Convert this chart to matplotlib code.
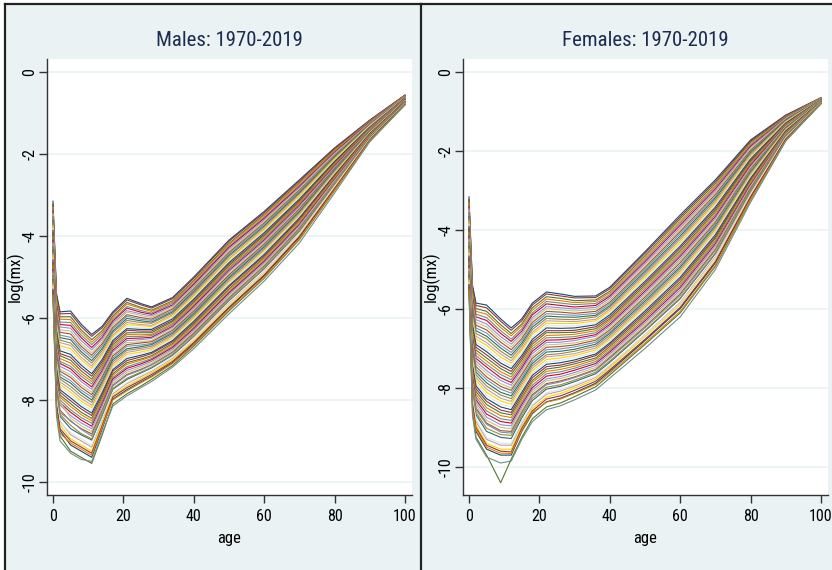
import matplotlib
matplotlib.use("Agg")
import matplotlib.pyplot as plt
from matplotlib import font_manager
from matplotlib.lines import Line2D
from matplotlib.patches import Rectangle

# ---------------------------------------------------------------------------
# log central death rates, log(mx), one value per calendar year 1970..2019
# ---------------------------------------------------------------------------
years = list(range(1970, 2020))
x_ticks = [0, 20, 40, 60, 80, 100]
y_ticks = [0, -2, -4, -6, -8, -10]

male_ages = [0, 1, 2, 5, 8, 11, 14, 17, 21, 25, 28, 34, 40, 50, 60, 70, 80, 90, 100]
female_ages = [0, 1, 2, 5, 9, 12, 15, 18, 22, 26, 30, 36, 40, 50, 60, 70, 80, 90, 100]

# ----- males -----
m_a0 = [-3.15, -3.22, -3.24, -3.30, -3.33, -3.39, -3.44, -3.47, -3.53, -3.58,
        -3.62, -3.66, -3.73, -3.77, -3.82, -3.86, -3.92, -3.96, -4.01, -4.06,
        -4.10, -4.16, -4.20, -4.25, -4.30, -4.33, -4.40, -4.44, -4.48, -4.55,
        -4.58, -4.64, -4.68, -4.72, -4.79, -4.82, -4.87, -4.92, -4.95, -5.02,
        -5.06, -5.10, -5.16, -5.20, -5.24, -5.30, -5.33, -5.40, -5.44, -5.50]
m_a1 = [-5.40, -5.44, -5.52, -5.57, -5.63, -5.68, -5.77, -5.81, -5.88, -5.94,
        -6.01, -6.06, -6.13, -6.18, -6.26, -6.30, -6.38, -6.42, -6.50, -6.55,
        -6.62, -6.67, -6.75, -6.80, -6.86, -6.92, -6.99, -7.03, -7.11, -7.16,
        -7.22, -7.29, -7.33, -7.41, -7.45, -7.52, -7.58, -7.63, -7.70, -7.74,
        -7.82, -7.86, -7.93, -7.99, -8.03, -8.12, -8.16, -8.22, -8.30, -8.40]
m_a2 = [-5.85, -5.90, -5.97, -6.03, -6.10, -6.16, -6.22, -6.29, -6.35, -6.42,
        -6.48, -6.54, -6.60, -6.68, -6.73, -6.80, -6.87, -6.92, -6.99, -7.06,
        -7.11, -7.18, -7.25, -7.30, -7.37, -7.44, -7.49, -7.56, -7.62, -7.68,
        -7.75, -7.81, -7.88, -7.93, -8.00, -8.07, -8.12, -8.05, -8.25, -8.31,
        -8.40, -8.35, -8.52, -8.60, -8.55, -8.75, -8.70, -8.88, -8.82, -9.00]
m_a5 = [-5.83, -5.89, -5.97, -6.04, -6.11, -6.18, -6.25, -6.32, -6.39, -6.47,
        -6.53, -6.61, -6.67, -6.75, -6.82, -6.89, -6.96, -7.03, -7.10, -7.18,
        -7.24, -7.31, -7.39, -7.45, -7.53, -7.59, -7.67, -7.74, -7.81, -7.88,
        -7.95, -8.02, -8.09, -8.16, -8.24, -8.30, -8.38, -8.44, -8.52, -8.50,
        -8.70, -8.62, -8.85, -8.95, -8.80, -9.10, -9.00, -9.25, -9.05, -9.30]
m_a8 = [-6.15, -6.21, -6.29, -6.35, -6.42, -6.48, -6.55, -6.62, -6.69, -6.75,
        -6.82, -6.88, -6.96, -7.02, -7.09, -7.15, -7.22, -7.29, -7.36, -7.42,
        -7.49, -7.55, -7.63, -7.69, -7.76, -7.82, -7.89, -7.96, -8.03, -8.09,
        -8.16, -8.22, -8.30, -8.36, -8.43, -8.49, -8.56, -8.63, -8.70, -8.72,
        -8.85, -8.82, -9.00, -9.10, -8.95, -9.25, -9.15, -9.40, -9.20, -9.45]
m_a11 = [-6.40, -6.45, -6.53, -6.59, -6.65, -6.72, -6.78, -6.85, -6.91, -6.97,
         -7.04, -7.10, -7.17, -7.23, -7.29, -7.36, -7.42, -7.49, -7.55, -7.61,
         -7.68, -7.74, -7.81, -7.87, -7.93, -8.00, -8.06, -8.13, -8.19, -8.25,
         -8.32, -8.38, -8.45, -8.51, -8.57, -8.64, -8.70, -8.77, -8.83, -8.88,
         -8.98, -8.95, -9.15, -9.25, -9.10, -9.40, -9.30, -9.55, -9.35, -9.50]
m_a14 = [-6.20, -6.24, -6.31, -6.36, -6.41, -6.47, -6.52, -6.58, -6.63, -6.68,
         -6.74, -6.79, -6.85, -6.90, -6.95, -7.01, -7.06, -7.12, -7.17, -7.22,
         -7.28, -7.33, -7.39, -7.44, -7.49, -7.55, -7.60, -7.66, -7.71, -7.76,
         -7.82, -7.87, -7.93, -7.98, -8.03, -8.09, -8.14, -8.20, -8.25, -8.28,
         -8.38, -8.35, -8.50, -8.58, -8.46, -8.70, -8.62, -8.85, -8.66, -8.80]
m_a17 = [-5.85, -5.89, -5.95, -5.99, -6.04, -6.08, -6.13, -6.18, -6.23, -6.27,
         -6.32, -6.36, -6.42, -6.46, -6.51, -6.55, -6.60, -6.65, -6.70, -6.74,
         -6.79, -6.83, -6.89, -6.93, -6.98, -7.02, -7.07, -7.12, -7.17, -7.21,
         -7.26, -7.30, -7.36, -7.40, -7.45, -7.49, -7.54, -7.59, -7.64, -7.66,
         -7.74, -7.72, -7.85, -7.90, -7.82, -7.98, -7.93, -8.10, -8.00, -8.15]
m_a21 = [-5.52, -5.56, -5.62, -5.66, -5.72, -5.76, -5.82, -5.86, -5.92, -5.96,
         -6.01, -6.06, -6.11, -6.16, -6.21, -6.26, -6.30, -6.36, -6.40, -6.45,
         -6.50, -6.55, -6.60, -6.65, -6.69, -6.75, -6.79, -6.84, -6.89, -6.94,
         -6.99, -7.04, -7.09, -7.13, -7.19, -7.23, -7.28, -7.33, -7.38, -7.40,
         -7.50, -7.47, -7.60, -7.66, -7.58, -7.75, -7.70, -7.85, -7.78, -7.90]
m_a25 = [-5.65, -5.68, -5.74, -5.77, -5.82, -5.86, -5.90, -5.94, -5.99, -6.03,
         -6.07, -6.11, -6.16, -6.19, -6.24, -6.28, -6.32, -6.36, -6.41, -6.45,
         -6.49, -6.53, -6.58, -6.61, -6.66, -6.70, -6.74, -6.78, -6.83, -6.87,
         -6.91, -6.95, -7.00, -7.03, -7.08, -7.12, -7.16, -7.20, -7.25, -7.27,
         -7.34, -7.32, -7.43, -7.48, -7.40, -7.56, -7.52, -7.66, -7.58, -7.70]
m_a28 = [-5.73, -5.76, -5.81, -5.84, -5.88, -5.91, -5.95, -5.99, -6.03, -6.06,
         -6.10, -6.13, -6.18, -6.21, -6.25, -6.28, -6.32, -6.36, -6.40, -6.43,
         -6.47, -6.50, -6.55, -6.58, -6.62, -6.65, -6.69, -6.73, -6.77, -6.80,
         -6.84, -6.87, -6.92, -6.95, -6.99, -7.02, -7.06, -7.10, -7.14, -7.15,
         -7.22, -7.20, -7.30, -7.34, -7.28, -7.42, -7.38, -7.50, -7.44, -7.55]
m_a34 = [-5.50, -5.53, -5.58, -5.61, -5.64, -5.68, -5.71, -5.75, -5.78, -5.82,
         -5.85, -5.88, -5.92, -5.95, -5.99, -6.02, -6.06, -6.09, -6.13, -6.16,
         -6.20, -6.23, -6.27, -6.30, -6.34, -6.37, -6.41, -6.44, -6.48, -6.51,
         -6.55, -6.58, -6.62, -6.65, -6.69, -6.72, -6.76, -6.79, -6.83, -6.85,
         -6.91, -6.89, -6.98, -7.02, -6.96, -7.09, -7.06, -7.16, -7.11, -7.20]
m_a40 = [-5.00, -5.03, -5.08, -5.11, -5.15, -5.18, -5.22, -5.26, -5.29, -5.33,
         -5.36, -5.40, -5.44, -5.47, -5.51, -5.54, -5.58, -5.62, -5.65, -5.69,
         -5.72, -5.76, -5.80, -5.83, -5.87, -5.90, -5.94, -5.98, -6.01, -6.05,
         -6.08, -6.12, -6.16, -6.19, -6.23, -6.26, -6.30, -6.34, -6.37, -6.40,
         -6.45, -6.44, -6.52, -6.56, -6.52, -6.63, -6.60, -6.69, -6.66, -6.75]
m_a50 = [-4.10, -4.13, -4.18, -4.21, -4.25, -4.28, -4.32, -4.36, -4.40, -4.43,
         -4.47, -4.50, -4.55, -4.58, -4.62, -4.65, -4.69, -4.73, -4.77, -4.80,
         -4.84, -4.87, -4.92, -4.95, -4.99, -5.02, -5.06, -5.10, -5.14, -5.17,
         -5.21, -5.24, -5.29, -5.32, -5.36, -5.39, -5.43, -5.47, -5.51, -5.53,
         -5.58, -5.57, -5.65, -5.69, -5.66, -5.76, -5.74, -5.83, -5.80, -5.90]
m_a60 = [-3.40, -3.43, -3.47, -3.50, -3.54, -3.57, -3.61, -3.64, -3.68, -3.71,
         -3.75, -3.78, -3.82, -3.85, -3.89, -3.92, -3.96, -3.99, -4.03, -4.06,
         -4.10, -4.13, -4.17, -4.20, -4.24, -4.27, -4.31, -4.34, -4.38, -4.41,
         -4.45, -4.48, -4.52, -4.55, -4.59, -4.62, -4.66, -4.69, -4.73, -4.75,
         -4.80, -4.79, -4.87, -4.90, -4.88, -4.97, -4.95, -5.03, -5.01, -5.10]
m_a70 = [-2.63, -2.66, -2.70, -2.72, -2.76, -2.79, -2.82, -2.85, -2.88, -2.91,
         -2.94, -2.97, -3.01, -3.03, -3.07, -3.10, -3.13, -3.16, -3.19, -3.22,
         -3.25, -3.28, -3.32, -3.34, -3.38, -3.41, -3.44, -3.47, -3.50, -3.53,
         -3.56, -3.59, -3.63, -3.65, -3.69, -3.72, -3.75, -3.78, -3.81, -3.83,
         -3.88, -3.87, -3.94, -3.96, -3.95, -4.03, -4.01, -4.09, -4.07, -4.17]
m_a80 = [-1.85, -1.87, -1.90, -1.91, -1.94, -1.96, -1.98, -2.00, -2.03, -2.05,
         -2.07, -2.09, -2.12, -2.13, -2.16, -2.18, -2.20, -2.22, -2.25, -2.27,
         -2.29, -2.31, -2.34, -2.35, -2.38, -2.40, -2.42, -2.44, -2.47, -2.49,
         -2.51, -2.53, -2.56, -2.57, -2.60, -2.62, -2.64, -2.66, -2.69, -2.70,
         -2.74, -2.73, -2.78, -2.80, -2.79, -2.85, -2.84, -2.89, -2.88, -2.95]
m_a90 = [-1.17, -1.18, -1.19, -1.20, -1.21, -1.22, -1.23, -1.25, -1.26, -1.27,
         -1.28, -1.29, -1.30, -1.31, -1.32, -1.34, -1.35, -1.36, -1.37, -1.38,
         -1.39, -1.40, -1.41, -1.42, -1.44, -1.45, -1.46, -1.47, -1.48, -1.49,
         -1.50, -1.51, -1.52, -1.53, -1.55, -1.56, -1.57, -1.58, -1.59, -1.60,
         -1.61, -1.61, -1.63, -1.64, -1.64, -1.66, -1.66, -1.68, -1.68, -1.70]
m_a100 = [-0.56, -0.56, -0.57, -0.57, -0.58, -0.58, -0.59, -0.59, -0.60, -0.60,
          -0.61, -0.61, -0.62, -0.62, -0.63, -0.63, -0.64, -0.64, -0.65, -0.65,
          -0.66, -0.66, -0.67, -0.67, -0.68, -0.68, -0.69, -0.69, -0.70, -0.70,
          -0.71, -0.71, -0.72, -0.72, -0.73, -0.73, -0.74, -0.74, -0.75, -0.75,
          -0.76, -0.76, -0.77, -0.77, -0.78, -0.78, -0.79, -0.79, -0.80, -0.80]

# ----- females -----
f_a0 = [-3.16, -3.22, -3.25, -3.31, -3.36, -3.41, -3.46, -3.50, -3.56, -3.61,
        -3.66, -3.71, -3.75, -3.81, -3.86, -3.91, -3.96, -4.00, -4.06, -4.11,
        -4.16, -4.21, -4.25, -4.31, -4.36, -4.41, -4.46, -4.50, -4.56, -4.61,
        -4.66, -4.71, -4.75, -4.81, -4.86, -4.91, -4.96, -5.00, -5.06, -5.11,
        -5.14, -5.20, -5.24, -5.28, -5.33, -5.38, -5.42, -5.48, -5.52, -5.60]
f_a1 = [-5.40, -5.45, -5.54, -5.60, -5.67, -5.73, -5.81, -5.87, -5.94, -6.00,
        -6.07, -6.14, -6.21, -6.27, -6.34, -6.40, -6.48, -6.54, -6.61, -6.67,
        -6.75, -6.81, -6.88, -6.94, -7.01, -7.08, -7.15, -7.21, -7.28, -7.34,
        -7.42, -7.48, -7.55, -7.61, -7.68, -7.75, -7.82, -7.88, -7.95, -8.00,
        -8.10, -8.05, -8.25, -8.33, -8.28, -8.45, -8.40, -8.62, -8.55, -8.70]
f_a2 = [-5.85, -5.91, -5.99, -6.06, -6.13, -6.20, -6.27, -6.34, -6.41, -6.48,
        -6.55, -6.62, -6.69, -6.76, -6.83, -6.90, -6.97, -7.04, -7.11, -7.18,
        -7.25, -7.32, -7.39, -7.46, -7.53, -7.60, -7.67, -7.74, -7.81, -7.88,
        -7.95, -8.02, -8.09, -8.16, -8.23, -8.30, -8.37, -8.44, -8.51, -8.55,
        -8.68, -8.62, -8.85, -8.95, -8.80, -9.10, -9.00, -9.25, -9.05, -9.30]
f_a5 = [-5.90, -5.97, -6.06, -6.13, -6.22, -6.29, -6.38, -6.45, -6.53, -6.61,
        -6.69, -6.76, -6.85, -6.92, -7.01, -7.08, -7.16, -7.24, -7.32, -7.40,
        -7.47, -7.56, -7.63, -7.72, -7.79, -7.87, -7.95, -8.03, -8.11, -8.18,
        -8.27, -8.34, -8.42, -8.50, -8.58, -8.66, -8.74, -8.82, -8.89, -8.92,
        -9.10, -9.02, -9.30, -9.40, -9.25, -9.55, -9.45, -9.70, -9.50, -9.75]
f_a9 = [-6.25, -6.31, -6.40, -6.47, -6.55, -6.62, -6.70, -6.77, -6.84, -6.92,
        -6.99, -7.07, -7.14, -7.22, -7.29, -7.37, -7.44, -7.51, -7.59, -7.66,
        -7.74, -7.81, -7.89, -7.96, -8.03, -8.11, -8.18, -8.26, -8.33, -8.41,
        -8.48, -8.56, -8.63, -8.70, -8.78, -8.85, -8.93, -9.00, -9.08, -9.12,
        -9.25, -9.18, -9.45, -9.55, -9.40, -9.70, -9.60, -10.40, -9.65, -9.90]
f_a12 = [-6.48, -6.54, -6.62, -6.68, -6.76, -6.82, -6.89, -6.96, -7.03, -7.10,
         -7.17, -7.24, -7.31, -7.37, -7.45, -7.51, -7.58, -7.65, -7.72, -7.79,
         -7.86, -7.93, -8.00, -8.06, -8.13, -8.20, -8.27, -8.34, -8.41, -8.48,
         -8.55, -8.62, -8.68, -8.75, -8.82, -8.89, -8.96, -9.03, -9.10, -9.14,
         -9.28, -9.20, -9.45, -9.55, -9.40, -9.70, -9.62, -9.80, -9.66, -9.85]
f_a15 = [-6.25, -6.30, -6.38, -6.43, -6.50, -6.56, -6.62, -6.68, -6.75, -6.81,
         -6.87, -6.93, -7.00, -7.05, -7.12, -7.18, -7.24, -7.30, -7.37, -7.43,
         -7.49, -7.55, -7.62, -7.67, -7.74, -7.80, -7.86, -7.92, -7.99, -8.05,
         -8.11, -8.17, -8.24, -8.29, -8.36, -8.42, -8.48, -8.54, -8.61, -8.64,
         -8.76, -8.70, -8.90, -8.98, -8.86, -9.10, -9.02, -9.25, -9.08, -9.30]
f_a18 = [-5.85, -5.90, -5.97, -6.03, -6.10, -6.15, -6.22, -6.28, -6.34, -6.40,
         -6.46, -6.52, -6.59, -6.64, -6.71, -6.77, -6.83, -6.89, -6.95, -7.01,
         -7.07, -7.13, -7.20, -7.25, -7.32, -7.38, -7.44, -7.50, -7.56, -7.62,
         -7.68, -7.74, -7.81, -7.86, -7.93, -7.99, -8.05, -8.11, -8.17, -8.20,
         -8.32, -8.26, -8.45, -8.52, -8.42, -8.65, -8.58, -8.78, -8.62, -8.85]
f_a22 = [-5.57, -5.62, -5.69, -5.75, -5.81, -5.87, -5.94, -5.99, -6.06, -6.12,
         -6.18, -6.24, -6.30, -6.36, -6.42, -6.48, -6.55, -6.60, -6.67, -6.73,
         -6.79, -6.85, -6.91, -6.97, -7.03, -7.09, -7.16, -7.21, -7.28, -7.34,
         -7.40, -7.46, -7.52, -7.58, -7.64, -7.70, -7.77, -7.82, -7.89, -7.92,
         -8.03, -7.98, -8.16, -8.23, -8.12, -8.35, -8.28, -8.48, -8.36, -8.55]
f_a26 = [-5.62, -5.67, -5.73, -5.79, -5.85, -5.91, -5.97, -6.02, -6.08, -6.14,
         -6.20, -6.26, -6.31, -6.37, -6.43, -6.49, -6.55, -6.60, -6.66, -6.72,
         -6.78, -6.84, -6.89, -6.95, -7.01, -7.07, -7.13, -7.18, -7.24, -7.30,
         -7.36, -7.42, -7.47, -7.53, -7.59, -7.65, -7.71, -7.76, -7.82, -7.85,
         -7.96, -7.92, -8.08, -8.14, -8.04, -8.26, -8.20, -8.38, -8.28, -8.45]
f_a30 = [-5.68, -5.72, -5.79, -5.84, -5.89, -5.95, -6.00, -6.05, -6.11, -6.16,
         -6.21, -6.27, -6.32, -6.37, -6.43, -6.48, -6.54, -6.59, -6.64, -6.70,
         -6.75, -6.80, -6.86, -6.91, -6.96, -7.02, -7.07, -7.13, -7.18, -7.23,
         -7.29, -7.34, -7.39, -7.45, -7.50, -7.55, -7.61, -7.66, -7.72, -7.74,
         -7.84, -7.80, -7.95, -8.00, -7.92, -8.12, -8.06, -8.22, -8.14, -8.30]
f_a36 = [-5.67, -5.71, -5.77, -5.81, -5.86, -5.91, -5.96, -6.01, -6.06, -6.11,
         -6.16, -6.20, -6.26, -6.30, -6.35, -6.40, -6.45, -6.50, -6.55, -6.60,
         -6.65, -6.69, -6.75, -6.79, -6.84, -6.89, -6.94, -6.99, -7.04, -7.09,
         -7.14, -7.18, -7.24, -7.28, -7.33, -7.38, -7.43, -7.48, -7.53, -7.55,
         -7.64, -7.60, -7.73, -7.78, -7.71, -7.88, -7.83, -7.97, -7.91, -8.05]
f_a40 = [-5.45, -5.49, -5.55, -5.59, -5.64, -5.68, -5.73, -5.78, -5.83, -5.87,
         -5.92, -5.96, -6.01, -6.06, -6.11, -6.15, -6.20, -6.25, -6.29, -6.34,
         -6.39, -6.43, -6.48, -6.53, -6.58, -6.62, -6.67, -6.72, -6.76, -6.81,
         -6.86, -6.90, -6.95, -7.00, -7.05, -7.09, -7.14, -7.19, -7.23, -7.26,
         -7.35, -7.32, -7.44, -7.48, -7.42, -7.58, -7.54, -7.67, -7.62, -7.75]
f_a50 = [-4.55, -4.59, -4.65, -4.70, -4.75, -4.80, -4.85, -4.90, -4.95, -5.00,
         -5.05, -5.10, -5.15, -5.20, -5.25, -5.30, -5.35, -5.40, -5.45, -5.50,
         -5.55, -5.60, -5.65, -5.70, -5.75, -5.80, -5.85, -5.90, -5.95, -6.00,
         -6.05, -6.10, -6.15, -6.20, -6.25, -6.30, -6.35, -6.40, -6.45, -6.48,
         -6.56, -6.54, -6.65, -6.70, -6.66, -6.80, -6.77, -6.90, -6.86, -7.00]
f_a60 = [-3.62, -3.67, -3.72, -3.78, -3.83, -3.88, -3.94, -3.99, -4.04, -4.09,
         -4.15, -4.20, -4.25, -4.31, -4.36, -4.41, -4.46, -4.52, -4.57, -4.62,
         -4.67, -4.73, -4.78, -4.83, -4.89, -4.94, -4.99, -5.04, -5.10, -5.15,
         -5.20, -5.25, -5.31, -5.36, -5.41, -5.46, -5.52, -5.57, -5.62, -5.66,
         -5.74, -5.72, -5.84, -5.89, -5.86, -5.99, -5.96, -6.10, -6.06, -6.20]
f_a70 = [-2.73, -2.77, -2.82, -2.87, -2.91, -2.96, -3.01, -3.05, -3.10, -3.15,
         -3.19, -3.24, -3.29, -3.33, -3.38, -3.42, -3.47, -3.52, -3.56, -3.61,
         -3.66, -3.70, -3.75, -3.80, -3.84, -3.89, -3.93, -3.98, -4.03, -4.07,
         -4.12, -4.17, -4.21, -4.26, -4.30, -4.35, -4.40, -4.44, -4.49, -4.52,
         -4.60, -4.58, -4.68, -4.73, -4.71, -4.83, -4.80, -4.92, -4.89, -5.00]
f_a80 = [-1.72, -1.75, -1.78, -1.82, -1.85, -1.88, -1.91, -1.94, -1.98, -2.01,
         -2.04, -2.07, -2.11, -2.14, -2.17, -2.20, -2.24, -2.27, -2.30, -2.33,
         -2.36, -2.40, -2.43, -2.46, -2.49, -2.53, -2.56, -2.59, -2.62, -2.65,
         -2.69, -2.72, -2.75, -2.78, -2.82, -2.85, -2.88, -2.91, -2.94, -2.97,
         -3.02, -3.01, -3.08, -3.11, -3.10, -3.18, -3.16, -3.24, -3.22, -3.30]
f_a90 = [-1.09, -1.10, -1.12, -1.13, -1.14, -1.16, -1.17, -1.18, -1.20, -1.21,
         -1.22, -1.24, -1.25, -1.26, -1.28, -1.29, -1.30, -1.32, -1.33, -1.34,
         -1.36, -1.37, -1.38, -1.40, -1.41, -1.42, -1.44, -1.45, -1.46, -1.48,
         -1.49, -1.50, -1.52, -1.53, -1.54, -1.56, -1.57, -1.58, -1.60, -1.61,
         -1.63, -1.63, -1.66, -1.67, -1.67, -1.70, -1.70, -1.73, -1.73, -1.75]
f_a100 = [-0.65, -0.65, -0.66, -0.66, -0.66, -0.67, -0.67, -0.67, -0.68, -0.68,
          -0.68, -0.69, -0.69, -0.69, -0.70, -0.70, -0.70, -0.71, -0.71, -0.71,
          -0.72, -0.72, -0.72, -0.73, -0.73, -0.73, -0.74, -0.74, -0.74, -0.75,
          -0.75, -0.75, -0.76, -0.76, -0.76, -0.77, -0.77, -0.77, -0.78, -0.78,
          -0.78, -0.79, -0.79, -0.79, -0.79, -0.80, -0.80, -0.80, -0.80, -0.80]

male_rows = [m_a0, m_a1, m_a2, m_a5, m_a8, m_a11, m_a14, m_a17, m_a21, m_a25,
             m_a28, m_a34, m_a40, m_a50, m_a60, m_a70, m_a80, m_a90, m_a100]
female_rows = [f_a0, f_a1, f_a2, f_a5, f_a9, f_a12, f_a15, f_a18, f_a22, f_a26,
               f_a30, f_a36, f_a40, f_a50, f_a60, f_a70, f_a80, f_a90, f_a100]

# Stata s2color line palette
palette = ['#1a476f', '#90353b', '#55752f', '#e37e00', '#6e8e84',
           '#c10534', '#938dd2', '#cac27e', '#a0522d', '#7b92a8',
           '#2d6d66', '#9c8847', '#bfa19c', '#ffd200', '#d9e6eb']

region_bg = '#eaf2f3'
grid_col = '#eaf2f3'
title_col = '#1c2b4f'


def pick_font():
    entries = font_manager.fontManager.ttflist
    names = {e.name for e in entries}
    for name in ['Liberation Sans Narrow', 'Roboto Condensed', 'Open Sans Condensed']:
        if name in names:
            return name, 'normal'
    for name in ['Roboto', 'Open Sans', 'DejaVu Sans', 'Noto Sans']:
        for e in entries:
            if e.name == name and str(e.stretch) in ('condensed', 'semi-condensed', 'extra-condensed'):
                return name, 'condensed'
    return 'Liberation Sans', 'normal'


family, stretch = pick_font()
plt.rcParams['font.family'] = [family, 'DejaVu Sans']
plt.rcParams['font.stretch'] = stretch

W, H = 832, 570
fig = plt.figure(figsize=(W / 100, H / 100), dpi=100)
fig.patch.set_facecolor('white')


def fx(px):
    return px / W


def fy(py):
    return 1 - py / H


# graph regions and the frame around the two graphs
fig.add_artist(Rectangle((fx(5), 0), fx(421) - fx(5), fy(4), transform=fig.transFigure,
                         facecolor=region_bg, edgecolor='none', zorder=0))
fig.add_artist(Rectangle((fx(421), 0), 1 - fx(421), fy(4), transform=fig.transFigure,
                         facecolor=region_bg, edgecolor='none', zorder=0))
for xs, ys in [((5, 832), (4, 4)), ((5, 5), (4, 570)), ((421, 421), (4, 570))]:
    fig.add_artist(Line2D([fx(xs[0]), fx(xs[1])], [fy(ys[0]), fy(ys[1])],
                          transform=fig.transFigure, color='#222222', lw=1.6, zorder=5))

panels = [
    dict(rect=(47, 59, 412, 495), ages=male_ages, rows=male_rows,
         title='Males: 1970-2019', ylim=(-10.32, 0.32), ylab_px=15),
    dict(rect=(463, 59, 828, 495), ages=female_ages, rows=female_rows,
         title='Females: 1970-2019', ylim=(-10.71, 0.33), ylab_px=431),
]

for p in panels:
    x0, y0, x1, y1 = p['rect']
    ax = fig.add_axes([fx(x0), fy(y1), fx(x1) - fx(x0), fy(y0) - fy(y1)])
    ax.set_facecolor('white')
    for j, yr in enumerate(years):
        vals = [row[j] for row in p['rows']]
        ax.plot(p['ages'], vals, color=palette[j % len(palette)], lw=0.8,
                solid_joinstyle='round', zorder=2)

    ax.set_xlim(-1.7, 102.0)
    ax.set_ylim(*p['ylim'])
    ax.set_xticks(x_ticks)
    ax.set_yticks(y_ticks)
    ax.set_yticklabels([str(v) for v in y_ticks])
    ax.yaxis.grid(True, color=grid_col, lw=1.2, zorder=0)
    ax.set_axisbelow(True)
    for side in ('top', 'right'):
        ax.spines[side].set_visible(False)
    for side in ('left', 'bottom'):
        ax.spines[side].set_color('#333333')
        ax.spines[side].set_linewidth(1.0)
    ax.tick_params(direction='out', length=6, width=1, color='#333333',
                   labelcolor='black')
    ax.tick_params(axis='x', pad=4, labelsize=11.5)
    ax.tick_params(axis='y', pad=1, labelsize=11.5)
    for lab in ax.get_yticklabels():
        lab.set_rotation(90)
        lab.set_va('center')
        lab.set_ha('right')

    ax.set_xlabel('age', fontsize=12)
    ax.xaxis.set_label_coords(0.5, (495 - 538) / 436)
    ax.xaxis.label.set_va('center')
    ax.set_ylabel('log(mx)', fontsize=12)
    ax.yaxis.set_label_coords((p['ylab_px'] - x0) / (x1 - x0), 0.5)
    ax.yaxis.label.set_va('center')

    fig.text(fx((x0 + x1) / 2), fy(40), p['title'], ha='center', va='center',
             fontsize=15, color=title_col)

fig.savefig('out.png', dpi=100, facecolor=fig.get_facecolor())
